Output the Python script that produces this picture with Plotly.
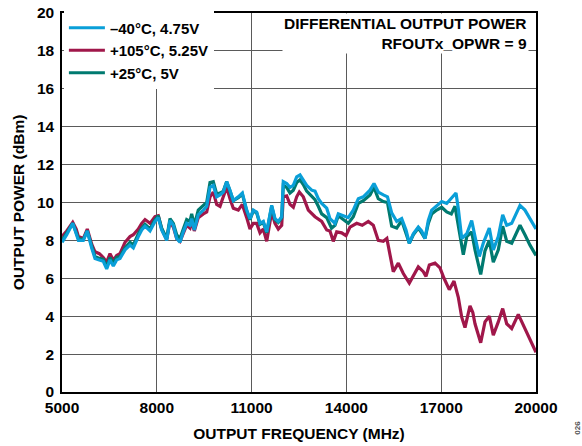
import plotly.graph_objects as go

# −40°C, 4.75V
freq_cold = [5000, 5150, 5340, 5450, 5520, 5675, 5800, 5940, 6044, 6181, 6307, 6414, 6519, 6624, 6730, 6835,
             6994, 7152, 7257, 7415, 7522, 7627, 7785, 7943, 8047, 8154, 8313, 8418, 8523, 8629, 8734, 8839,
             8946, 9051, 9104, 9187, 9313, 9472, 9579, 9684, 9788, 9895, 10000, 10104, 10212, 10316, 10421,
             10579, 10706, 10845, 10949, 11054, 11160, 11266, 11370, 11478, 11636, 11740, 11845, 11953, 12003,
             12111, 12215, 12320, 12427, 12532, 12636, 12743, 12902, 13006, 13111, 13218, 13377, 13481, 13639,
             13744, 13902, 14060, 14218, 14377, 14535, 14747, 14873, 15009, 15168, 15300, 15433, 15592, 15750,
             15886, 15991, 16117, 16275, 16380, 16487, 16592, 16699, 16857, 17016, 17174, 17320, 17468, 17540,
             17649, 17810, 17965, 18070, 18206, 18330, 18522, 18649, 18807, 18946, 19073, 19231, 19336, 19494,
             19650, 19810, 20000]
pwr_cold = [7.9, 8.3, 8.9, 8.4, 8.0, 8.0, 8.5, 7.6, 7.05, 6.97, 6.9, 6.5, 6.97, 6.65, 6.97, 7.05,
            7.5, 7.75, 7.6, 8.2, 8.55, 8.75, 8.5, 9.0, 9.2, 8.55, 8.0, 9.05, 8.8, 8.1, 7.9, 8.45,
            8.9, 8.8, 9.15, 8.55, 9.35, 9.6, 9.8, 10.8, 10.9, 10.3, 10.4, 10.55, 11.1, 10.65, 10.1,
            10.3, 10.5, 9.6, 9.15, 9.6, 9.5, 8.9, 9.0, 8.45, 9.85, 9.15, 9.0, 9.25, 11.1,
            11.0, 10.8, 10.9, 11.35, 11.45, 11.2, 10.9, 10.65, 10.6, 10.2, 9.95, 9.7, 9.15, 8.9,
            9.4, 9.3, 9.2, 9.6, 10.2, 10.3, 10.65, 11.0, 10.55, 10.4, 10.3, 9.45, 9.0, 9.15,
            8.55, 7.85, 8.35, 8.7, 8.5, 8.1, 9.05, 9.6, 9.85, 10.05, 9.95, 10.2, 10.5, 9.7,
            8.1, 8.35, 9.05, 8.2, 7.15, 7.85, 8.65, 7.5, 8.2, 9.35, 8.8, 8.9, 9.25, 9.85,
            9.6, 9.15, 8.6]

# +105°C, 5.25V
freq_hot = [5000, 5150, 5340, 5450, 5520, 5675, 5800, 5940, 6044, 6181, 6307, 6414, 6519, 6624, 6730, 6835,
            6994, 7152, 7257, 7415, 7522, 7627, 7785, 7943, 8047, 8154, 8313, 8418, 8523, 8629, 8734, 8839,
            8946, 9051, 9104, 9187, 9313, 9472, 9579, 9684, 9788, 9895, 10000, 10104, 10212, 10316, 10421,
            10579, 10706, 10845, 10949, 11054, 11160, 11266, 11370, 11478, 11636, 11740, 11845, 11953, 12003,
            12111, 12215, 12320, 12427, 12510, 12636, 12795, 13006, 13218, 13377, 13480, 13585, 13693, 13850,
            13987, 14114, 14326, 14500, 14693, 14851, 15009, 15168, 15280, 15380, 15484, 15643, 15801, 15991,
            16117, 16275, 16434, 16519, 16624, 16804, 16962, 17089, 17257, 17405, 17541, 17649, 17753, 17911,
            18000, 18070, 18250, 18386, 18522, 18649, 18807, 18946, 19073, 19231, 19440, 19598, 19756, 19915,
            20000]
pwr_hot = [8.2, 8.5, 8.95, 8.6, 8.2, 8.1, 8.6, 7.8, 7.4, 7.3, 7.1, 6.85, 7.3, 6.95, 7.2, 7.3,
           7.9, 8.2, 8.3, 8.6, 8.9, 9.1, 8.9, 9.25, 9.3, 8.6, 8.05, 9.0, 8.7, 8.1, 7.95, 8.4,
           8.8, 8.65, 9.0, 8.5, 9.2, 9.4, 9.5, 10.3, 10.55, 9.9, 9.8, 10.3, 10.8, 10.2, 9.7,
           9.6, 9.9, 9.2, 8.6, 8.9, 8.9, 8.4, 8.6, 7.95, 9.5, 8.9, 8.6, 8.8, 10.3,
           10.35, 9.9, 9.75, 10.3, 10.55, 10.3, 9.6, 9.25, 9.0, 8.55, 8.5, 7.95, 8.45, 8.4,
           8.25, 8.7, 8.9, 8.8, 9.0, 8.8, 8.0, 7.95, 8.1, 7.3, 6.35, 6.8, 6.25, 5.75,
           6.15, 6.6, 6.35, 6.1, 6.7, 6.8, 6.55, 6.0, 5.4, 5.85, 5.0, 3.95, 3.4, 4.55,
           4.2, 3.6, 2.6, 3.7, 4.0, 3.0, 3.7, 4.4, 3.6, 3.35, 4.1, 3.55, 3.0, 2.4,
           2.1]

# +25°C, 5V
freq_room = [5000, 5150, 5340, 5450, 5520, 5675, 5800, 5940, 6044, 6181, 6307, 6414, 6519, 6624, 6730, 6835,
             6994, 7152, 7257, 7415, 7522, 7627, 7785, 7943, 8047, 8154, 8313, 8418, 8523, 8629, 8734, 8839,
             8946, 9051, 9104, 9187, 9313, 9472, 9579, 9684, 9788, 9895, 10000, 10104, 10212, 10316, 10421,
             10579, 10706, 10845, 10949, 11054, 11160, 11266, 11370, 11478, 11636, 11740, 11845, 11953, 12003,
             12111, 12215, 12320, 12427, 12532, 12636, 12743, 12902, 13006, 13111, 13218, 13377, 13530, 13639,
             13744, 13902, 14060, 14218, 14377, 14535, 14747, 14873, 15009, 15168, 15300, 15433, 15592, 15750,
             15886, 15991, 16117, 16275, 16380, 16487, 16592, 16699, 16857, 17016, 17174, 17320, 17436, 17540,
             17700, 17810, 17965, 18070, 18250, 18386, 18522, 18649, 18807, 18946, 19073, 19231, 19336, 19494,
             19650, 19810, 20000]
pwr_room = [8.0, 8.4, 8.9, 8.4, 8.1, 8.05, 8.5, 7.7, 7.15, 7.05, 7.0, 6.6, 7.1, 6.8, 7.1, 7.15,
            7.6, 7.9, 7.75, 8.35, 8.65, 8.85, 8.6, 9.1, 9.3, 8.65, 8.1, 9.15, 8.9, 8.3, 8.1, 8.6,
            9.1, 9.0, 9.4, 8.8, 9.6, 9.85, 10.0, 11.05, 11.1, 10.45, 10.5, 10.6, 11.1, 10.6, 10.1,
            10.25, 10.45, 9.55, 9.1, 9.55, 9.45, 8.85, 8.95, 8.4, 9.8, 9.1, 8.95, 9.2, 10.9,
            10.8, 10.5, 10.65, 11.05, 11.2, 10.95, 10.6, 10.3, 10.15, 9.8, 9.4, 9.2, 8.65, 8.8,
            9.3, 9.1, 8.9, 9.25, 9.95, 10.1, 10.4, 10.8, 10.2, 10.05, 10.0, 8.75, 8.65, 9.05,
            8.4, 7.85, 8.3, 8.65, 8.4, 8.1, 8.9, 9.4, 9.6, 9.75, 9.5, 9.4, 9.8, 8.8,
            7.25, 8.2, 8.45, 7.5, 6.2, 7.45, 8.0, 6.85, 7.5, 8.75, 7.95, 7.85, 8.2, 8.8,
            8.3, 7.75, 7.2]

x_ticks = [5000, 8000, 11000, 14000, 17000, 20000]
x_tick_labels = ["5000", "8000", "11000", "14000", "17000", "20000"]
y_ticks = [0, 2, 4, 6, 8, 10, 12, 14, 16, 18, 20]
y_tick_labels = ["0", "2", "4", "6", "8", "10", "12", "14", "16", "18", "20"]

FONT = "Liberation Sans, Arial, sans-serif"
FS = 15.5
C_COLD = "#0A9FD8"
C_HOT = "#A0174A"
C_ROOM = "#007A70"

fig = go.Figure()
fig.add_trace(go.Scatter(x=freq_hot, y=pwr_hot, mode="lines", name="+105°C, 5.25V",
                         line=dict(color=C_HOT, width=3.2), legendrank=2))
fig.add_trace(go.Scatter(x=freq_room, y=pwr_room, mode="lines", name="+25°C, 5V",
                         line=dict(color=C_ROOM, width=3.2), legendrank=3))
fig.add_trace(go.Scatter(x=freq_cold, y=pwr_cold, mode="lines", name="–40°C, 4.75V",
                         line=dict(color=C_COLD, width=3.2), legendrank=1))

fig.update_layout(
    width=582, height=446,
    margin=dict(l=62, r=46, t=13, b=54, autoexpand=False),
    paper_bgcolor="white", plot_bgcolor="white",
    font=dict(family=FONT, size=FS, color="black", weight="bold"),
    showlegend=True,
    legend=dict(x=0.004, y=1.004, xanchor="left", yanchor="top",
                bgcolor="white", borderwidth=0,
                font=dict(family=FONT, size=15, color="black", weight="bold"),
                tracegroupgap=0, itemwidth=36),
    xaxis=dict(range=[5000, 20000], tickvals=x_ticks, ticktext=x_tick_labels, ticks="",
               showgrid=True, automargin=False, ticklabeloverflow="allow",
               gridcolor="#5a5a5a", gridwidth=1, showline=True, linecolor="black",
               linewidth=1.5, mirror=True, zeroline=False, ticklabelstandoff=1,
               tickfont=dict(family=FONT, size=FS, weight="bold"),
               title=dict(text="OUTPUT FREQUENCY (MHz)", standoff=13,
                          font=dict(family=FONT, size=FS, weight="bold"))),
    yaxis=dict(range=[0, 20], tickvals=y_ticks, ticktext=y_tick_labels, ticks="",
               showgrid=True, automargin=False, ticklabeloverflow="allow",
               gridcolor="#5a5a5a", gridwidth=1, showline=True, linecolor="black",
               linewidth=1.5, mirror=True, zeroline=False, ticklabelstandoff=3,
               tickfont=dict(family=FONT, size=FS, weight="bold"),
               title=dict(text="OUTPUT POWER (dBm)", standoff=8,
                          font=dict(family=FONT, size=FS, weight="bold"))),
    annotations=[
        dict(text="DIFFERENTIAL OUTPUT POWER<br>RFOUTx_OPWR = 9", xref="paper", yref="paper",
             x=0.986, y=1.0, xanchor="right", yanchor="top", align="right", showarrow=False,
             bgcolor="white", borderpad=1,
             font=dict(family=FONT, size=FS, weight="bold", color="black")),
        dict(text="026", xref="paper", yref="paper", x=1.086, y=-0.095, xanchor="center",
             yanchor="middle", textangle=-90, showarrow=False,
             font=dict(family=FONT, size=8, color="#555555")),
    ],
)

fig.write_html("out.html", config={"displayModeBar": False},
               post_script="document.body.style.margin='0';document.body.style.overflow='hidden';")
